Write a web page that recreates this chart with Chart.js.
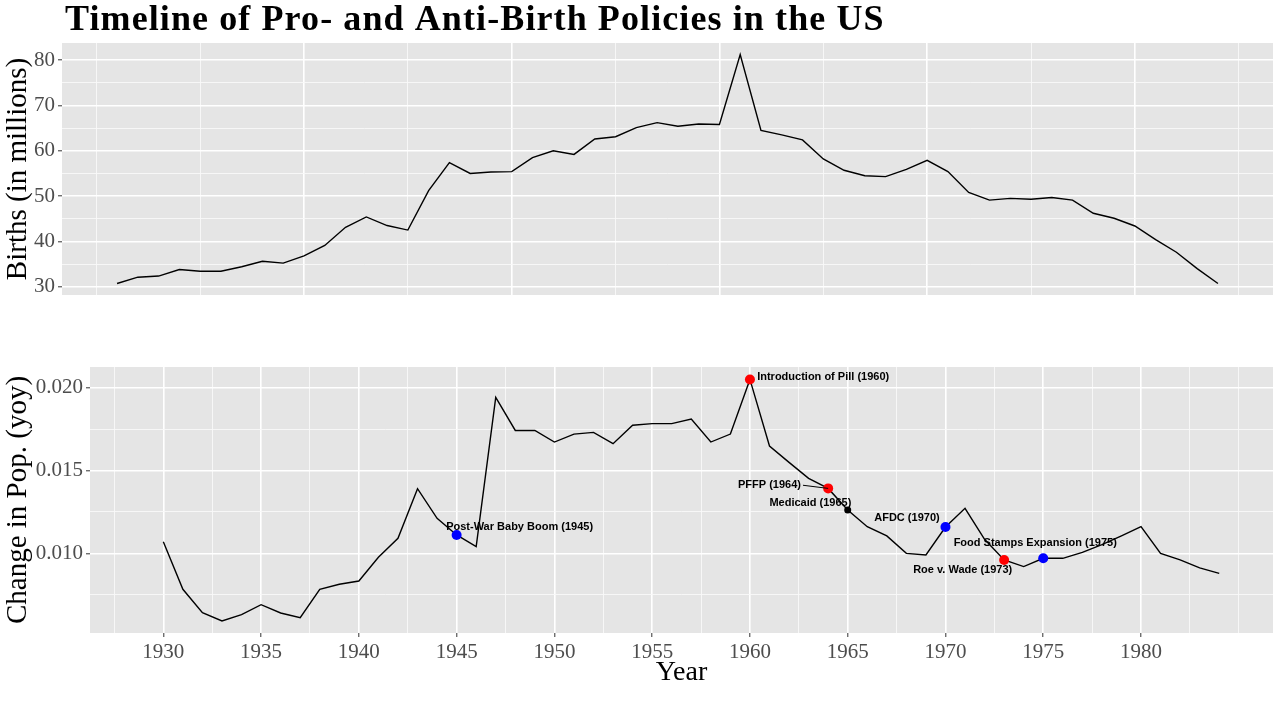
<!DOCTYPE html>
<html>
<head>
<meta charset="utf-8">
<script src="https://cdn.jsdelivr.net/npm/chart.js@4.4.0/dist/chart.umd.min.js"></script>
<style>
html, body { margin: 0; padding: 0; background: #fff; }
#wrap { position: relative; width: 1280px; height: 720px; }
canvas { position: absolute; left: 0; }
#top { top: 0; }
#bottom { top: 320px; }
</style>
</head>
<body>
<div id="wrap">
<canvas id="top" width="1280" height="320"></canvas>
<canvas id="bottom" width="1280" height="400"></canvas>
</div>
<script>
var title_text = 'Timeline of Pro- and Anti-Birth Policies in the US';

// top panel: births
var birth_years = [1931, 1932, 1933, 1934, 1935, 1936, 1937, 1938, 1939, 1940,
    1941, 1942, 1943, 1944, 1945, 1946, 1947, 1948, 1949, 1950,
    1951, 1952, 1953, 1954, 1955, 1956, 1957, 1958, 1959, 1960,
    1961, 1962, 1963, 1964, 1965, 1966, 1967, 1968, 1969, 1970,
    1971, 1972, 1973, 1974, 1975, 1976, 1977, 1978, 1979, 1980,
    1981, 1982, 1983, 1984];
var births_millions = [30.7, 32.1, 32.35, 33.8, 33.4, 33.4, 34.4, 35.6, 35.2, 36.8,
    39.1, 43.1, 45.4, 43.5, 42.5, 51.2, 57.4, 55.0, 55.3, 55.4,
    58.5, 60.0, 59.2, 62.6, 63.1, 65.1, 66.2, 65.4, 65.9, 65.8,
    81.25, 64.5, 63.5, 62.4, 58.2, 55.7, 54.5, 54.3, 55.9, 57.9,
    55.4, 50.8, 49.1, 49.5, 49.3, 49.7, 49.1, 46.2, 45.1, 43.4,
    40.4, 37.6, 34.0, 30.7];

// bottom panel: year over year change
var yoy_years = [1930, 1931, 1932, 1933, 1934, 1935, 1936, 1937, 1938, 1939,
    1940, 1941, 1942, 1943, 1944, 1945, 1946, 1947, 1948, 1949,
    1950, 1951, 1952, 1953, 1954, 1955, 1956, 1957, 1958, 1959,
    1960, 1961, 1962, 1963, 1964, 1965, 1966, 1967, 1968, 1969,
    1970, 1971, 1972, 1973, 1974, 1975, 1976, 1977, 1978, 1979,
    1980, 1981, 1982, 1983, 1984];
var yoy_change = [0.01070, 0.00783, 0.00642, 0.00592, 0.00630, 0.00690, 0.00640, 0.00612, 0.00783, 0.00813,
    0.00833, 0.00976, 0.01091, 0.01390, 0.01211, 0.01111, 0.01040, 0.01942, 0.01742, 0.01742,
    0.01672, 0.01720, 0.01730, 0.01662, 0.01773, 0.01783, 0.01783, 0.01811, 0.01672, 0.01720,
    0.02050, 0.01648, 0.01549, 0.01453, 0.01392, 0.01262, 0.01161, 0.01105, 0.01000, 0.00990,
    0.01159, 0.01272, 0.01085, 0.00960, 0.00920, 0.00970, 0.00970, 0.01006, 0.01052, 0.01105,
    0.01161, 0.01000, 0.00960, 0.00912, 0.00879];

// policy events
var event_names = ['Post-War Baby Boom (1945)', 'Introduction of Pill (1960)', 'PFFP (1964)',
    'Medicaid (1965)', 'AFDC (1970)', 'Roe v. Wade (1973)', 'Food Stamps Expansion (1975)'];
var event_years = [1945, 1960, 1964, 1965, 1970, 1973, 1975];
var event_colors = ['#0000FF', '#FF0000', '#FF0000', '#000000', '#0000FF', '#FF0000', '#0000FF'];
var event_radius = [5, 5, 5, 3.5, 5, 5, 5];
var label_x = [1948.22, 1960.37, 1962.61, 1963.09, 1968.03, 1970.88, 1974.59];
var label_y = [0.01157, 0.02065, 0.01411, 0.01304, 0.01213, 0.00900, 0.01063];
var label_align = ['center', 'left', 'right', 'center', 'center', 'center', 'center'];
var label_segment = [false, false, true, false, false, false, false];

var serif = "'Liberation Serif', 'Times New Roman', serif";
var sans = "'Liberation Sans', Arial, sans-serif";
var panel_bg = '#E5E5E5';
var major_col = '#FFFFFF';
var minor_col = '#F8F8F8';

function line_color(is_major) { return is_major ? major_col : minor_col; }
function line_width(is_major) { return is_major ? 1.6 : 0.9; }
function tick_color(is_major) { return is_major ? '#333333' : 'rgba(0,0,0,0)'; }

function top_x_major(v) { return v % 10 === 0 && v >= 1940 && v <= 1980; }
function top_y_major(v) { return v % 10 === 0; }
function bot_x_major(v) { return v % 5 === 0 && v >= 1930 && v <= 1980; }
function bot_y_major(v) { return Math.round(v * 2000) % 10 === 0; }

var panel_background = {
    id: 'panel_background',
    beforeDraw: function(chart) {
        var a = chart.chartArea;
        var ctx = chart.ctx;
        ctx.save();
        ctx.fillStyle = panel_bg;
        ctx.fillRect(a.left, a.top, a.right - a.left, a.bottom - a.top);
        ctx.restore();
    }
};

var main_title = {
    id: 'main_title',
    afterDraw: function(chart) {
        var ctx = chart.ctx;
        ctx.save();
        ctx.font = 'bold 36px ' + serif;
        ctx.letterSpacing = '1.1px';
        ctx.fillStyle = '#000';
        ctx.textAlign = 'left';
        ctx.textBaseline = 'alphabetic';
        ctx.fillText(title_text, 65, 30);
        ctx.restore();
    }
};

var event_labels = {
    id: 'event_labels',
    afterDatasetsDraw: function(chart) {
        var ctx = chart.ctx;
        var xs = chart.scales.x;
        var ys = chart.scales.y;
        ctx.save();
        ctx.font = 'bold 11px ' + sans;
        ctx.fillStyle = '#000';
        ctx.strokeStyle = '#000';
        ctx.lineWidth = 1;
        ctx.textBaseline = 'middle';
        for (var i = 0; i < event_names.length; i++) {
            var px = xs.getPixelForValue(label_x[i]);
            var py = ys.getPixelForValue(label_y[i]);
            ctx.textAlign = label_align[i];
            ctx.fillText(event_names[i], px, py);
            if (label_segment[i]) {
                var k = yoy_years.indexOf(event_years[i]);
                ctx.beginPath();
                ctx.moveTo(px + 2, py);
                ctx.lineTo(xs.getPixelForValue(event_years[i]), ys.getPixelForValue(yoy_change[k]));
                ctx.stroke();
            }
        }
        ctx.restore();
    }
};

function xy(xs_arr, ys_arr) {
    return xs_arr.map(function(x, i) { return {x: x, y: ys_arr[i]}; });
}

var top_chart = new Chart(document.getElementById('top'), {
    type: 'line',
    data: {
        datasets: [{
            data: xy(birth_years, births_millions),
            borderColor: '#000',
            borderWidth: 1.4,
            pointRadius: 0,
            fill: false,
            tension: 0
        }]
    },
    options: {
        responsive: false,
        animation: false,
        layout: {padding: {top: 43, right: 7, bottom: 25, left: 0}},
        plugins: {legend: {display: false}, tooltip: {enabled: false}},
        scales: {
            x: {
                type: 'linear', min: 1928.35, max: 1986.65,
                afterFit: function(s) { s.height = 0; },
                ticks: {display: false, stepSize: 5, includeBounds: false, maxTicksLimit: 100},
                grid: {
                    drawTicks: false,
                    color: function(c) { return line_color(top_x_major(c.tick.value)); },
                    lineWidth: function(c) { return line_width(top_x_major(c.tick.value)); }
                },
                border: {display: false}
            },
            y: {
                type: 'linear', min: 28.17, max: 83.78,
                afterFit: function(s) { s.width = 62; },
                ticks: {
                    stepSize: 5, includeBounds: false, autoSkip: false, maxTicksLimit: 100,
                    color: '#4D4D4D', padding: 3,
                    font: {family: serif, size: 21},
                    callback: function(v) { return top_y_major(v) ? String(v) : ''; }
                },
                grid: {
                    tickLength: 4,
                    color: function(c) { return line_color(top_y_major(c.tick.value)); },
                    lineWidth: function(c) { return line_width(top_y_major(c.tick.value)); },
                    tickColor: function(c) { return tick_color(top_y_major(c.tick.value)); },
                    tickWidth: 1
                },
                border: {display: false},
                title: {display: true, text: 'Births (in millions)', color: '#000',
                        font: {family: serif, size: 29}, padding: {top: 1, bottom: 0}}
            }
        }
    },
    plugins: [panel_background, main_title]
});

var bottom_chart = new Chart(document.getElementById('bottom'), {
    type: 'line',
    data: {
        datasets: [{
            data: xy(event_years, event_years.map(function(y) { return yoy_change[yoy_years.indexOf(y)]; })),
            showLine: false,
            pointRadius: event_radius,
            pointBackgroundColor: event_colors,
            pointBorderColor: event_colors,
            pointBorderWidth: 0,
            order: 1
        }, {
            data: xy(yoy_years, yoy_change),
            borderColor: '#000',
            borderWidth: 1.4,
            pointRadius: 0,
            fill: false,
            tension: 0,
            order: 2
        }]
    },
    options: {
        responsive: false,
        animation: false,
        layout: {padding: {top: 47, right: 7, bottom: 0, left: 0}},
        plugins: {legend: {display: false}, tooltip: {enabled: false}},
        scales: {
            x: {
                type: 'linear', min: 1926.25, max: 1986.75,
                afterFit: function(s) { s.height = 87; },
                ticks: {
                    stepSize: 2.5, includeBounds: false, autoSkip: false, maxRotation: 0,
                    maxTicksLimit: 100, color: '#4D4D4D', padding: 3,
                    font: {family: serif, size: 21},
                    callback: function(v) { return bot_x_major(v) ? String(v) : ''; }
                },
                grid: {
                    tickLength: 4,
                    color: function(c) { return line_color(bot_x_major(c.tick.value)); },
                    lineWidth: function(c) { return line_width(bot_x_major(c.tick.value)); },
                    tickColor: function(c) { return tick_color(bot_x_major(c.tick.value)); },
                    tickWidth: 1
                },
                border: {display: false},
                title: {display: true, text: 'Year', color: '#000',
                        font: {family: serif, size: 28}, padding: {top: 0, bottom: 31}}
            },
            y: {
                type: 'linear', min: 0.00519, max: 0.02125,
                afterFit: function(s) { s.width = 90; },
                ticks: {
                    stepSize: 0.0025, includeBounds: false, autoSkip: false, maxTicksLimit: 100,
                    color: '#4D4D4D', padding: 3,
                    font: {family: serif, size: 21},
                    callback: function(v) { return bot_y_major(v) ? v.toFixed(3) : ''; }
                },
                grid: {
                    tickLength: 4,
                    color: function(c) { return line_color(bot_y_major(c.tick.value)); },
                    lineWidth: function(c) { return line_width(bot_y_major(c.tick.value)); },
                    tickColor: function(c) { return tick_color(bot_y_major(c.tick.value)); },
                    tickWidth: 1
                },
                border: {display: false},
                title: {display: true, text: 'Change in Pop. (yoy)', color: '#000',
                        font: {family: serif, size: 29}, padding: {top: 1, bottom: 0}}
            }
        }
    },
    plugins: [panel_background, event_labels]
});
</script>
</body>
</html>
